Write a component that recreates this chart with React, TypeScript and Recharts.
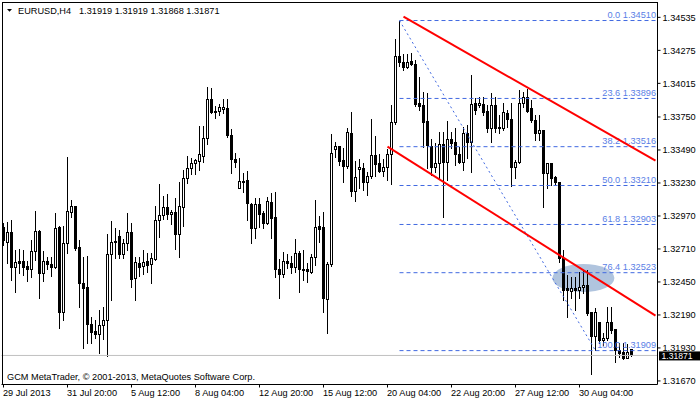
import React from "react";
import { ComposedChart, Bar, XAxis, YAxis, ReferenceLine } from "recharts";

// EURUSD H4 candles (29 Jul 04:00 onwards)
const opens = [
  1.32883, 1.32765, 1.32844, 1.32568, 1.32615, 1.32615, 1.32576, 1.32552, 1.32694, 1.32852,
  1.32521, 1.32615, 1.32592, 1.32568, 1.32883, 1.32214, 1.32757, 1.33001, 1.33049, 1.32726,
  1.32442, 1.3241, 1.32119, 1.32064, 1.3204, 1.32111, 1.3215, 1.3267, 1.32765, 1.32812,
  1.3267, 1.32757, 1.32844, 1.32481, 1.326, 1.32576, 1.32615, 1.32592, 1.32631, 1.32938,
  1.32978, 1.33041, 1.32986, 1.33001, 1.32828, 1.33041, 1.33269, 1.33348, 1.33388, 1.33403,
  1.33443, 1.33585, 1.33892, 1.33797, 1.33797, 1.33813, 1.33821, 1.33608, 1.33419, 1.33191,
  1.33246, 1.33254, 1.33064, 1.32875, 1.33064, 1.32994, 1.32915, 1.3308, 1.32962, 1.32552,
  1.32513, 1.32615, 1.326, 1.32568, 1.32678, 1.32552, 1.32552, 1.32529, 1.32647, 1.32891,
  1.32883, 1.32316, 1.32592, 1.33498, 1.33522, 1.33411, 1.33364, 1.33624, 1.33167, 1.3334,
  1.33348, 1.33238, 1.33285, 1.33451, 1.33388, 1.33325, 1.33356, 1.33458, 1.33711, 1.34231,
  1.34183, 1.34144, 1.34191, 1.34168, 1.3386, 1.33845, 1.33718, 1.33522, 1.33356, 1.33388,
  1.33537, 1.33395, 1.33577, 1.33553, 1.33458, 1.33395, 1.33624, 1.33553, 1.3386, 1.33845,
  1.33853, 1.33797, 1.33663, 1.33845, 1.33671, 1.33663, 1.33782, 1.33734, 1.33356, 1.33395,
  1.3386, 1.33908, 1.33821, 1.33726, 1.33624, 1.33648, 1.33309, 1.33388, 1.33277, 1.33238,
  1.32639, 1.32403, 1.32379, 1.32403, 1.32387, 1.3241, 1.32426, 1.32214, 1.32025, 1.32135,
  1.31993, 1.32009, 1.32135, 1.3208, 1.31914, 1.31898, 1.31851, 1.31919,
];
const highs = [
  1.32915, 1.32923, 1.32938, 1.32702, 1.3271, 1.32702, 1.32615, 1.32781, 1.33009, 1.3286,
  1.32694, 1.32647, 1.32647, 1.32994, 1.32891, 1.32891, 1.33435, 1.33096, 1.33049, 1.32781,
  1.32647, 1.32655, 1.32174, 1.3215, 1.32229, 1.32253, 1.32828, 1.3293, 1.32875, 1.3286,
  1.32789, 1.32994, 1.32915, 1.32647, 1.32647, 1.32702, 1.32678, 1.32678, 1.33049, 1.33222,
  1.33128, 1.33143, 1.33017, 1.33112, 1.33238, 1.33332, 1.33443, 1.33427, 1.33419, 1.33679,
  1.33679, 1.33986, 1.33979, 1.33837, 1.33853, 1.33892, 1.33892, 1.33656, 1.33466, 1.33427,
  1.33309, 1.33325, 1.33072, 1.33112, 1.33112, 1.33009, 1.3312, 1.33151, 1.33159, 1.32631,
  1.32686, 1.3267, 1.32655, 1.32789, 1.32694, 1.32702, 1.326, 1.3267, 1.33096, 1.3297,
  1.33001, 1.32607, 1.33616, 1.33553, 1.33522, 1.33506, 1.33663, 1.33789, 1.33403, 1.33419,
  1.33388, 1.33317, 1.33734, 1.336, 1.33458, 1.33419, 1.33498, 1.33845, 1.34365, 1.3451,
  1.34247, 1.34247, 1.34254, 1.34199, 1.34065, 1.33947, 1.33939, 1.33577, 1.33545, 1.33632,
  1.33632, 1.33718, 1.33632, 1.33663, 1.33514, 1.33671, 1.33687, 1.34081, 1.339, 1.33908,
  1.33908, 1.33845, 1.33939, 1.33908, 1.33766, 1.3386, 1.33805, 1.3386, 1.33411, 1.33963,
  1.33947, 1.33971, 1.33884, 1.33766, 1.33766, 1.33648, 1.33388, 1.33388, 1.33285, 1.33238,
  1.32702, 1.32505, 1.32489, 1.32489, 1.32529, 1.32544, 1.32544, 1.32214, 1.32245, 1.32135,
  1.32048, 1.32253, 1.32253, 1.3208, 1.3197, 1.3197, 1.31962, 1.31919,
];
const lows = [
  1.32741, 1.326, 1.32466, 1.32371, 1.32521, 1.32505, 1.32458, 1.32489, 1.32623, 1.32324,
  1.32458, 1.32552, 1.32497, 1.3256, 1.32087, 1.3215, 1.32678, 1.32962, 1.32702, 1.32253,
  1.3193, 1.3197, 1.3197, 1.32009, 1.31891, 1.32001, 1.31867, 1.32308, 1.32639, 1.32639,
  1.32639, 1.32702, 1.3241, 1.32308, 1.32497, 1.32513, 1.32529, 1.32442, 1.32623, 1.32805,
  1.32946, 1.32946, 1.32907, 1.3271, 1.32647, 1.32891, 1.3323, 1.33301, 1.33301, 1.33332,
  1.33395, 1.33537, 1.33782, 1.33742, 1.33766, 1.33782, 1.33592, 1.33309, 1.33356, 1.33191,
  1.33159, 1.32938, 1.32757, 1.32797, 1.32883, 1.32875, 1.32907, 1.32797, 1.32489, 1.32324,
  1.32489, 1.3256, 1.32521, 1.32529, 1.32371, 1.32466, 1.3245, 1.32521, 1.32584, 1.32765,
  1.32214, 1.32048, 1.32576, 1.33435, 1.33372, 1.33238, 1.33348, 1.33128, 1.33088, 1.33191,
  1.33175, 1.33135, 1.33269, 1.33285, 1.33317, 1.33285, 1.33254, 1.33222, 1.33695, 1.34152,
  1.3412, 1.34136, 1.3416, 1.33837, 1.33805, 1.33514, 1.33348, 1.33293, 1.33317, 1.33269,
  1.32962, 1.33254, 1.33506, 1.33372, 1.33388, 1.33332, 1.33427, 1.33317, 1.33774, 1.33829,
  1.33766, 1.33632, 1.33553, 1.33632, 1.33624, 1.33648, 1.33671, 1.33206, 1.33269, 1.33388,
  1.33829, 1.33789, 1.33711, 1.33569, 1.33569, 1.33041, 1.33191, 1.33214, 1.33214, 1.32607,
  1.32308, 1.32174, 1.32324, 1.32229, 1.32324, 1.32363, 1.3219, 1.31725, 1.31914, 1.3197,
  1.31954, 1.31993, 1.32048, 1.3182, 1.31859, 1.31843, 1.31851, 1.31868,
];
const closes = [
  1.32781, 1.32844, 1.32568, 1.32607, 1.326, 1.32568, 1.32552, 1.32694, 1.32852, 1.32521,
  1.32615, 1.32592, 1.32568, 1.32875, 1.32214, 1.32757, 1.33009, 1.33049, 1.32718, 1.32442,
  1.32403, 1.32119, 1.32056, 1.3204, 1.32111, 1.3215, 1.3267, 1.32765, 1.32773, 1.3267,
  1.32757, 1.32844, 1.32474, 1.32607, 1.32568, 1.32607, 1.32584, 1.32639, 1.32938, 1.32978,
  1.33041, 1.32986, 1.33001, 1.32828, 1.33049, 1.33269, 1.33348, 1.33388, 1.33411, 1.33458,
  1.33585, 1.33892, 1.33789, 1.33789, 1.33829, 1.33829, 1.33608, 1.33419, 1.33395, 1.33246,
  1.33238, 1.33072, 1.32875, 1.33064, 1.32986, 1.32915, 1.33088, 1.32954, 1.32552, 1.32513,
  1.32615, 1.326, 1.32568, 1.32678, 1.32552, 1.32544, 1.32537, 1.32647, 1.32883, 1.32867,
  1.32324, 1.32592, 1.33466, 1.33522, 1.33403, 1.33364, 1.33632, 1.33167, 1.33277, 1.33356,
  1.33238, 1.33285, 1.33451, 1.3338, 1.33325, 1.33356, 1.33458, 1.33711, 1.34231, 1.34183,
  1.34144, 1.34183, 1.34168, 1.33853, 1.33837, 1.33711, 1.33529, 1.33356, 1.33388, 1.33537,
  1.33395, 1.33577, 1.33545, 1.33458, 1.33395, 1.33624, 1.33553, 1.33853, 1.33805, 1.3386,
  1.33789, 1.33663, 1.33845, 1.33663, 1.33663, 1.33789, 1.33734, 1.33356, 1.33395, 1.3386,
  1.33908, 1.33797, 1.33726, 1.33624, 1.33648, 1.33309, 1.33388, 1.33269, 1.33238, 1.32639,
  1.32387, 1.32387, 1.32403, 1.32387, 1.3241, 1.32426, 1.32206, 1.32025, 1.32214, 1.31993,
  1.32009, 1.32135, 1.32072, 1.31914, 1.31891, 1.31851, 1.31898, 1.31871,
];

const SLOTS = 164; // empty shift on the right
const lastPrice = 1.31871;

const priceTicks = [
  1.3167, 1.3193, 1.3219, 1.3245, 1.3271, 1.3297, 1.3323, 1.3349, 1.3375, 1.34015, 1.34275,
  1.34535,
];
const dateTicks = [0, 16, 32, 48, 64, 80, 96, 112, 128, 144];
const dateLabels = [
  "29 Jul 2013",
  "31 Jul 20:00",
  "5 Aug 12:00",
  "8 Aug 04:00",
  "12 Aug 20:00",
  "15 Aug 12:00",
  "20 Aug 04:00",
  "22 Aug 20:00",
  "27 Aug 12:00",
  "30 Aug 04:00",
];

// fibo retracement 1.34510 -> 1.31909
const fibNames = ["0.0", "23.6", "38.2", "50.0", "61.8", "76.4", "100.0"];
const fibLevels = [1.3451, 1.33896, 1.33516, 1.3321, 1.32903, 1.32523, 1.31909];
const fibStart = 99;
const fibEnd = 148;

// red channel lines [bar, price]
const upperLine = [
  [100, 1.3454],
  [163, 1.33406],
];
const lowerLine = [
  [96, 1.33516],
  [163, 1.32184],
];
// ellipse marker: bar, price
const ellipseBar = 145;
const ellipsePrice = 1.32481;

const FONT = "'Liberation Sans', Arial, sans-serif";
const FS = 9.2;
const FIB_BLUE = "#4169E1";

const data = [];
for (let i = 0; i < SLOTS; i++) {
  const row: any = { i };
  if (i < opens.length) {
    row.o = opens[i];
    row.h = highs[i];
    row.l = lows[i];
    row.c = closes[i];
    row.range = [lows[i], highs[i]];
  }
  if (i === ellipseBar) row.ell = [ellipsePrice - 0.0001, ellipsePrice + 0.0001];
  data.push(row);
}

function Candle(props: any) {
  const { x, y, width, height, payload } = props;
  if (!payload || payload.h == null) return null;
  const { o, h, l, c } = payload;
  const top = Math.min(y, y + height);
  const bottom = Math.max(y, y + height);
  const span = h - l;
  const py = (v: number) => top + (span === 0 ? 0 : ((h - v) / span) * (bottom - top));
  const cx = Math.floor(x + width / 2) + 0.5;
  const bTop = Math.round(Math.min(py(o), py(c)));
  const bBot = Math.round(Math.max(py(o), py(c)));
  const bull = c > o;
  return (
    <g>
      <line
        x1={cx}
        x2={cx}
        y1={Math.round(top)}
        y2={Math.round(bottom) + 1}
        stroke="#000"
        strokeWidth={1}
      />
      {bull ? (
        <rect
          x={cx - 1}
          y={bTop + 0.5}
          width={2}
          height={Math.max(1, bBot - bTop)}
          fill="#fff"
          stroke="#000"
          strokeWidth={1}
        />
      ) : (
        <rect x={cx - 1.5} y={bTop} width={3} height={Math.max(1, bBot - bTop + 1)} fill="#000" />
      )}
    </g>
  );
}

function Ellipse(props: any) {
  const { x, y, width, height, payload } = props;
  if (!payload || payload.ell == null) return null;
  return (
    <ellipse cx={x + width / 2} cy={y + height / 2} rx={31} ry={14} fill="#b0c4de" />
  );
}

function DateTick(props: any) {
  const { x, y, payload } = props;
  const idx = dateTicks.indexOf(payload.value);
  if (idx < 0) return null;
  return (
    <text x={x - 0.5} y={y} dy="0.71em" textAnchor="start" fontFamily={FONT} fontSize={FS} fill="#000">
      {dateLabels[idx]}
    </text>
  );
}

function fibLabel(name: string, level: number) {
  return (p: any) => {
    const vb = p.viewBox;
    if (!vb) return null;
    return (
      <text
        x={vb.x + vb.width + 0.5}
        y={vb.y - 2.5}
        textAnchor="end"
        fontFamily={FONT}
        fontSize={FS}
        fill="#5a80e6"
      >
        {`${name} ${level.toFixed(5)}`}
      </text>
    );
  };
}

function priceBox(p: any) {
  const vb = p.viewBox;
  if (!vb) return null;
  const bx = vb.x + vb.width + 1.5;
  return (
    <g>
      <rect x={bx} y={vb.y - 4} width={42} height={9} fill="#000" />
      <text x={bx + 2.5} y={vb.y + 3.8} fontFamily={FONT} fontSize={8.6} fill="#fff">
        {lastPrice.toFixed(5)}
      </text>
    </g>
  );
}

export default function App() {
  return (
    <div style={{ position: "relative", width: 700, height: 402, background: "#fff" }}>
      <style>{"body{margin:0;background:#fff}"}</style>
      <ComposedChart
        width={700}
        height={402}
        data={data}
        margin={{ top: 2, right: 0, bottom: 0, left: 1.5 }}
      >
        <XAxis
          dataKey="i"
          type="category"
          ticks={dateTicks}
          interval={0}
          height={17.5}
          tickSize={3}
          tickLine={{ stroke: "#000" }}
          axisLine={{ stroke: "#000" }}
          tick={<DateTick />}
        />
        <XAxis xAxisId="marks" dataKey="i" type="category" hide />
        <YAxis
          orientation="right"
          type="number"
          domain={[1.31642, 1.34656]}
          allowDataOverflow
          ticks={priceTicks}
          width={42.5}
          tickSize={3}
          tickMargin={2}
          tickLine={{ stroke: "#000" }}
          axisLine={{ stroke: "#000" }}
          tickFormatter={(v: number) => v.toFixed(5)}
          tick={{ fill: "#000", fontSize: FS, fontFamily: FONT, textAnchor: "start" }}
        />
        <ReferenceLine y={lastPrice} stroke="#c0c0c0" strokeWidth={1} label={priceBox} />
        <Bar
          xAxisId="marks"
          dataKey="ell"
          shape={<Ellipse />}
          isAnimationActive={false}
        />
        <Bar dataKey="range" shape={<Candle />} isAnimationActive={false} />
        <ReferenceLine
          segment={[
            { x: fibStart, y: fibLevels[0] },
            { x: fibEnd, y: fibLevels[fibLevels.length - 1] },
          ]}
          stroke={FIB_BLUE}
          strokeWidth={1}
          strokeDasharray="2 3"
          isFront
        />
        {fibLevels.map((lv, k) => (
          <ReferenceLine
            key={k}
            segment={[
              { x: fibStart, y: lv },
              { x: SLOTS - 1, y: lv },
            ]}
            stroke={FIB_BLUE}
            strokeWidth={1}
            strokeDasharray="4 3"
            isFront
            label={fibLabel(fibNames[k], lv)}
          />
        ))}
        <ReferenceLine
          segment={[
            { x: upperLine[0][0], y: upperLine[0][1] },
            { x: upperLine[1][0], y: upperLine[1][1] },
          ]}
          stroke="#ff0000"
          strokeWidth={2}
          isFront
        />
        <ReferenceLine
          segment={[
            { x: lowerLine[0][0], y: lowerLine[0][1] },
            { x: lowerLine[1][0], y: lowerLine[1][1] },
          ]}
          stroke="#ff0000"
          strokeWidth={2}
          isFront
        />
      </ComposedChart>
      <svg
        width={700}
        height={402}
        style={{ position: "absolute", left: 0, top: 0, pointerEvents: "none" }}
      >
        <line x1={2} x2={657.5} y1={2.5} y2={2.5} stroke="#000" strokeWidth={1} />
        <line x1={2.5} x2={2.5} y1={2} y2={384.5} stroke="#000" strokeWidth={1} />
        <polygon points="7,9 12,9 9.5,11.8" fill="#000" />
        <text x={18} y={14} fontFamily={FONT} fontSize={FS} fill="#000">
          EURUSD,H4
        </text>
        <text x={79} y={14} fontFamily={FONT} fontSize={FS} fill="#000">
          1.31919 1.31919 1.31868 1.31871
        </text>
        <text x={7} y={379.5} fontFamily={FONT} fontSize={FS} fill="#000">
          GCM MetaTrader, © 2001-2013, MetaQuotes Software Corp.
        </text>
      </svg>
    </div>
  );
}
